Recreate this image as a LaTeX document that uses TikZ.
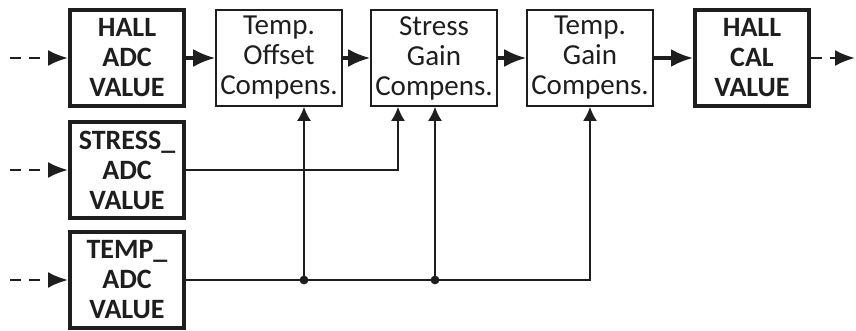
\documentclass[tikz,border=0pt]{standalone}
\usepackage{fontspec}
\setmainfont{Carlito}
\usetikzlibrary{arrows.meta,calc}
\definecolor{LineGray}{RGB}{30,30,30}

\begin{document}
\begin{tikzpicture}[x=.5pt,y=-.5pt,
    blk/.style={draw=LineGray,text=LineGray,line width=.8pt,minimum width=63pt,
      minimum height=48pt,align=center,inner sep=0pt,
      font=\fontsize{14.5}{15}\selectfont},
    valblk/.style={blk,line width=2pt,minimum width=57pt,
      font=\fontsize{14}{15}\selectfont\bfseries},
    flow/.style={-{Latex[length=11pt,width=9pt]},line width=1.6pt,draw=LineGray},
    sig/.style={-{Latex[length=7pt,width=7pt]},line width=1pt,draw=LineGray},
    feed/.style={-{Latex[length=10pt,width=8pt]},line width=1.3pt,
      dash pattern=on 5.5pt off 4pt,draw=LineGray}]
  \useasboundingbox (0,0) rectangle (856,331);
  % inputs
  \node[valblk] (hadc) at (127,58) {HALL\\ADC\\VALUE};
  \node[valblk] (sadc) at (127,170) {STRESS\_\\ADC\\VALUE};
  \node[valblk] (tadc) at (127,280) {TEMP\_\\ADC\\VALUE};
  % compensation chain
  \node[blk] (toff) at (279,58) {Temp.\\Offset\\Compens.};
  \node[blk] (sgain) at (434,58) {Stress\\Gain\\Compens.};
  \node[blk] (tgain) at (590,58) {Temp.\\Gain\\Compens.};
  \node[valblk] (hcal) at (752,58) {HALL\\CAL\\VALUE};
  % free ends
  \coordinate (in1) at (10,58);
  \coordinate (in2) at (10,170);
  \coordinate (in3) at (10,280);
  \coordinate (out) at (855,58);
  \coordinate (j1) at (304,280);
  \coordinate (j2) at (435,280);

  \draw[feed] (in1) -- (hadc.west);
  \draw[feed] (in2) -- (sadc.west);
  \draw[feed] (in3) -- (tadc.west);
  \draw[feed] (hcal.east) -- (out);

  \draw[flow] (hadc) -- (toff);
  \draw[flow] (toff) -- (sgain);
  \draw[flow] (sgain) -- (tgain);
  \draw[flow] (tgain) -- (hcal);

  \draw[sig] (sadc.east) -| ([xshift=-18pt]sgain.south);
  \draw[sig] (tadc.east) -| (tgain.south);
  \draw[sig] (j1) -- (j1 |- toff.south);
  \draw[sig] (j2) -- (j2 |- sgain.south);
  \fill[LineGray] (j1) circle (2.2pt) (j2) circle (2.2pt);
\end{tikzpicture}
\end{document}
